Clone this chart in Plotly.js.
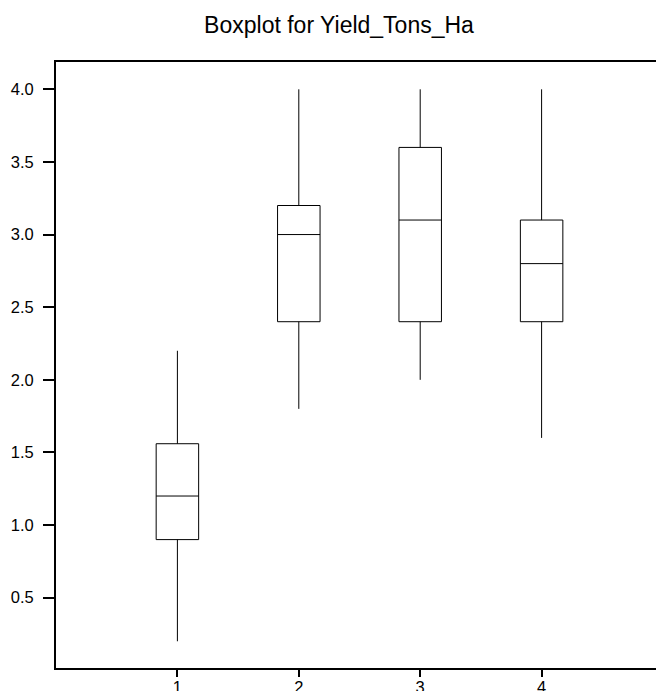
<!DOCTYPE html>
<html>
<head>
<meta charset="utf-8">
<script src="https://cdn.plot.ly/plotly-3.0.1.min.js"></script>
<style>
html, body { margin: 0; padding: 0; overflow: hidden; background: #fff; }
#chart { width: 663px; height: 700px; }
</style>
</head>
<body>
<div id="chart"></div>
<script>
// Data
const groups = [1, 2, 3, 4];
const lowerWhisker = [0.2, 1.8, 2.0, 1.6];
const q1Values = [0.9, 2.4, 2.4, 2.4];
const medianValues = [1.2, 3.0, 3.1, 2.8];
const q3Values = [1.56, 3.2, 3.6, 3.1];
const upperWhisker = [2.2, 4.0, 4.0, 4.0];
const yTickVals = [0.5, 1.0, 1.5, 2.0, 2.5, 3.0, 3.5, 4.0];
const yTickText = ['0.5', '1.0', '1.5', '2.0', '2.5', '3.0', '3.5', '4.0'];
const xTickVals = [1, 2, 3, 4];
const xTickText = ['1', '2', '3', '4'];

const trace = {
  type: 'box',
  x: groups,
  q1: q1Values,
  median: medianValues,
  q3: q3Values,
  lowerfence: lowerWhisker,
  upperfence: upperWhisker,
  width: 0.35,
  whiskerwidth: 0,
  boxpoints: false,
  line: { color: '#000', width: 1 },
  fillcolor: '#fff',
  showlegend: false,
  hoverinfo: 'skip'
};

const layout = {
  width: 663,
  height: 700,
  margin: { l: 56, r: 0, t: 62, b: 32 },
  paper_bgcolor: '#fff',
  plot_bgcolor: '#fff',
  font: { family: 'Liberation Sans, Arial, sans-serif', color: '#000', size: 16 },
  title: {
    text: 'Boxplot for Yield_Tons_Ha',
    font: { family: 'Liberation Sans, Arial, sans-serif', size: 23, color: '#000' },
    x: 339 / 663,
    xref: 'container',
    xanchor: 'center',
    y: 1 - 25 / 700,
    yref: 'container',
    yanchor: 'middle'
  },
  xaxis: {
    range: [0, 5],
    tickmode: 'array',
    tickvals: xTickVals,
    ticktext: xTickText,
    ticks: 'outside',
    ticklen: 7,
    tickwidth: 2,
    tickcolor: '#000',
    ticklabelstandoff: -4,
    showline: true,
    linecolor: '#000',
    linewidth: 2,
    mirror: true,
    showgrid: false,
    zeroline: false,
    tickfont: { size: 16.5 },
    fixedrange: true
  },
  yaxis: {
    range: [0.016, 4.188],
    tickmode: 'array',
    tickvals: yTickVals,
    ticktext: yTickText,
    ticks: 'outside',
    ticklen: 11,
    tickwidth: 2,
    tickcolor: '#000',
    ticklabelstandoff: 6,
    showline: true,
    linecolor: '#000',
    linewidth: 2,
    mirror: true,
    showgrid: false,
    zeroline: false,
    tickfont: { size: 16.5 },
    fixedrange: true
  }
};

Plotly.newPlot('chart', [trace], layout, { displayModeBar: false, staticPlot: true });
</script>
</body>
</html>
